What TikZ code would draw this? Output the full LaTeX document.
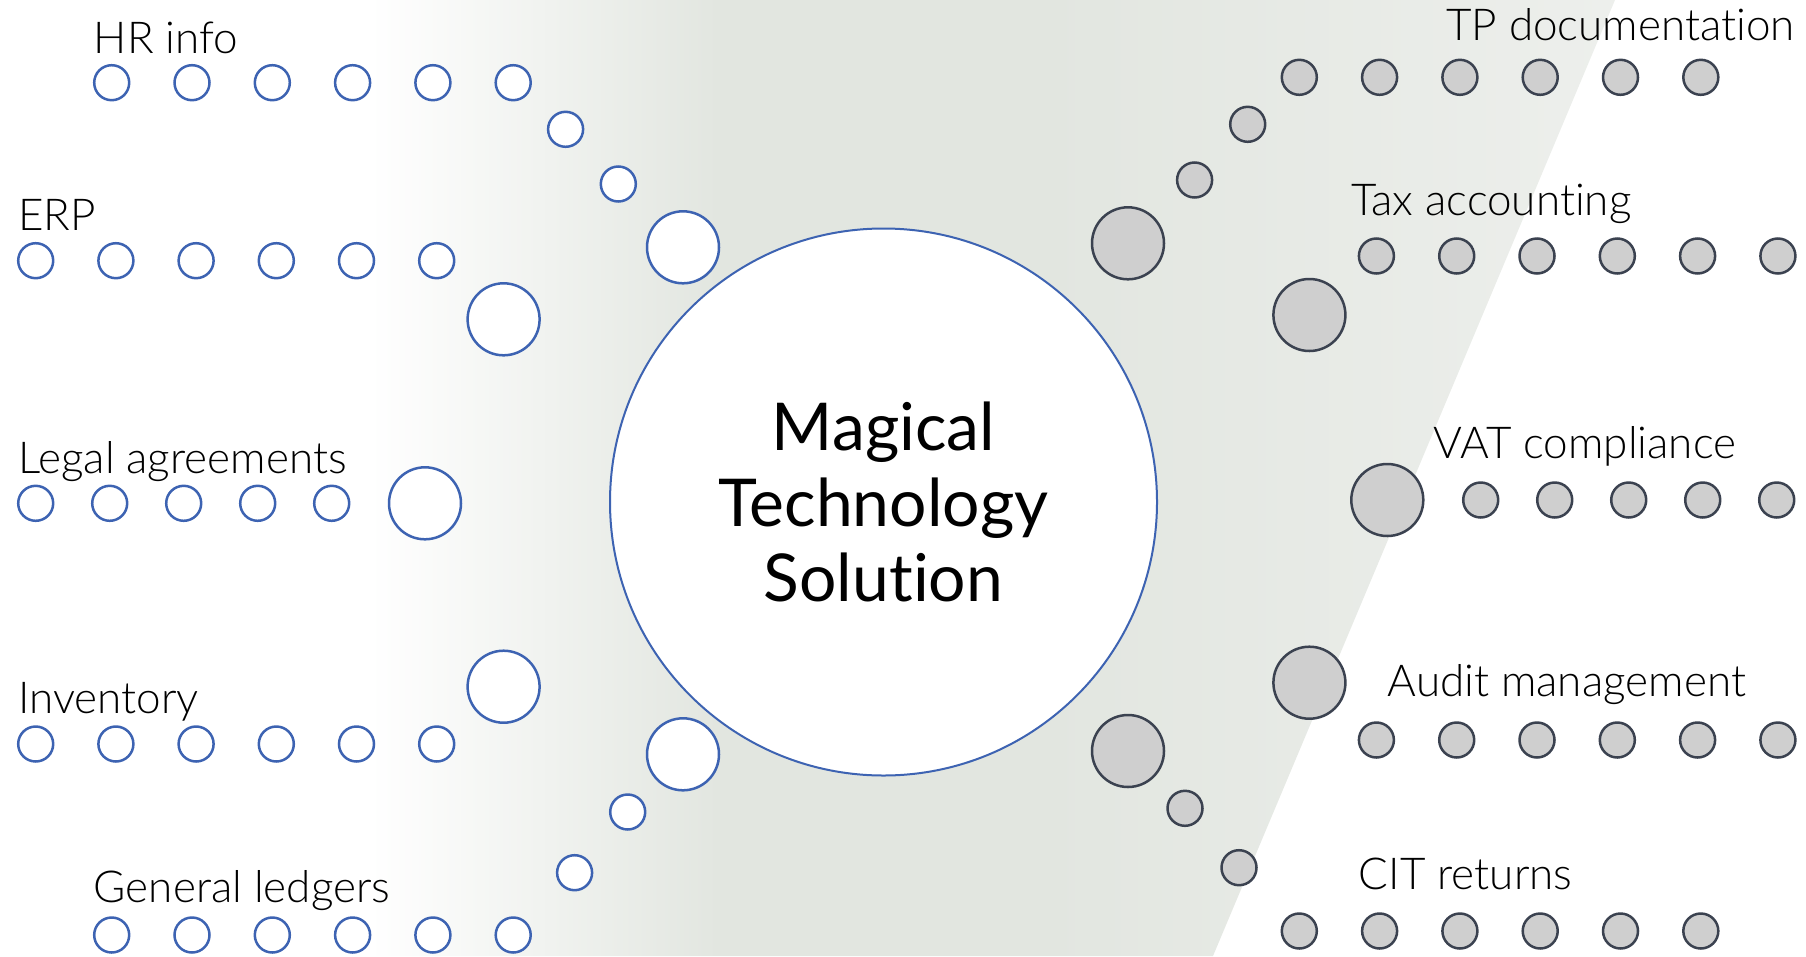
\documentclass[tikz,border=0pt]{standalone}
\usepackage{fontspec}
\setmainfont{Lato Light}[Ligatures=NoCommon]
\newfontfamily\hubfont{Lato}[Ligatures=NoCommon]
\usetikzlibrary{positioning,calc}
\definecolor{db}{RGB}{61,99,178}
\definecolor{dgr}{RGB}{59,66,80}
\definecolor{lgr}{RGB}{207,207,207}
\definecolor{bgA}{RGB}{226,230,224}
\definecolor{bgB}{RGB}{237,239,236}
\pgfdeclarehorizontalshading{band}{100bp}{color(0bp)=(white); color(25bp)=(white);
    color(39bp)=(bgA); color(52bp)=(bgA); color(75bp)=(bgB); color(100bp)=(bgB)}
\tikzset{
    lbead/.style =  {circle,
                    fill=white,
                    draw=db,
                    line width=2.5pt,
                    inner sep=0pt,
                    minimum size=35pt},
    lbig/.style =   {lbead,
                    minimum size=72pt},
    rbead/.style =  {circle,
                    fill=lgr,
                    draw=dgr,
                    line width=2.5pt,
                    inner sep=0pt,
                    minimum size=35pt},
    rbig/.style =   {rbead,
                    minimum size=72pt},
    hub/.style =    {circle,
                    fill=white,
                    draw=db,
                    line width=2pt,
                    inner sep=0pt,
                    minimum size=547pt,
                    align=center,
                    font=\hubfont\fontsize{66}{75.5}\selectfont},
    tag/.style =    {inner sep=0pt,
                    text=black,
                    font=\fontsize{44}{50}\selectfont}}

\begin{document}
\begin{tikzpicture}[x=1pt,y=-1pt]
                \useasboundingbox (0,0) rectangle (1806,956);
                \shade[shading=band] (370,0) -- (1615,0) -- (1213,956) -- (370,956) -- cycle;

                \node[hub]      (hub) at (883.5,502) {Magical\\Technology\\Solution};

                % inputs
                \foreach \i in {0,...,5} {
                    \node[lbead] (hr\i)  at ({111.7+80.3*\i},82.7) {};
                    \node[lbead] (erp\i) at ({35.7+80.2*\i},260.7) {};
                    \node[lbead] (inv\i) at ({35.7+80.2*\i},744) {};
                    \node[lbead] (gl\i)  at ({111.7+80.3*\i},935) {};
                }
                \foreach \i in {0,...,4}
                    \node[lbead] (lg\i)  at ({35.7+74*\i},503.3) {};
                \node[lbead]    (hrA)  at (565.6,129.3) {};
                \node[lbead]    (hrB)  at (618.3,184)   {};
                \node[lbig]     (hrC)  at (683,247.3)   {};
                \node[lbig]     (erpC) at (503.6,319.3) {};
                \node[lbig]     (lgC)  at (425,503.3)   {};
                \node[lbig]     (invC) at (503.6,686.7) {};
                \node[lbead]    (glA)  at (574.6,872.7) {};
                \node[lbead]    (glB)  at (627.7,812)   {};
                \node[lbig]     (glC)  at (683,754.3)   {};

                \node[tag,anchor=base west] (hrT)  at (93.7,53.3) {HR info};
                \node[tag,anchor=base west] (erpT) at (17.9,230)  {ERP};
                \node[tag,anchor=base west] (lgT)  at (17.9,473)  {Legal agreements};
                \node[tag,anchor=base west] (invT) at (17.9,713)  {Inventory};
                \node[tag,anchor=base west] (glT)  at (93.7,902)  {General ledgers};

                % outputs
                \foreach \i in {0,...,5} {
                    \node[rbead] (tp\i)  at ({1299.3+80.3*\i},77.3) {};
                    \node[rbead] (tax\i) at ({1376.4+80.3*\i},256) {};
                    \node[rbead] (aud\i) at ({1376.4+80.3*\i},740) {};
                    \node[rbead] (cit\i) at ({1299.3+80.3*\i},931) {};
                }
                \foreach \i in {0,...,4}
                    \node[rbead] (vat\i) at ({1480.7+74*\i},500) {};
                \node[rbead]    (tpA)  at (1247.7,124.3) {};
                \node[rbead]    (tpB)  at (1194.6,180)   {};
                \node[rbig]     (tpC)  at (1128,243.3)   {};
                \node[rbig]     (taxC) at (1309.4,315)   {};
                \node[rbig]     (vatC) at (1387.3,500)   {};
                \node[rbig]     (audC) at (1309.4,682.7) {};
                \node[rbead]    (citA) at (1239,867.7)   {};
                \node[rbead]    (citB) at (1185,808.3)   {};
                \node[rbig]     (citC) at (1128,751)     {};

                \node[tag,anchor=base east] (tpT)  at (1795,40)     {TP documentation};
                \node[tag,anchor=base west] (taxT) at (1351,215)    {Tax accounting};
                \node[tag,anchor=base west] (vatT) at (1433.3,458.3) {VAT compliance};
                \node[tag,anchor=base west] (audT) at (1387.5,696)  {Audit management};
                \node[tag,anchor=base west] (citT) at (1358.6,889.3) {CIT returns};
\end{tikzpicture}
\end{document}
